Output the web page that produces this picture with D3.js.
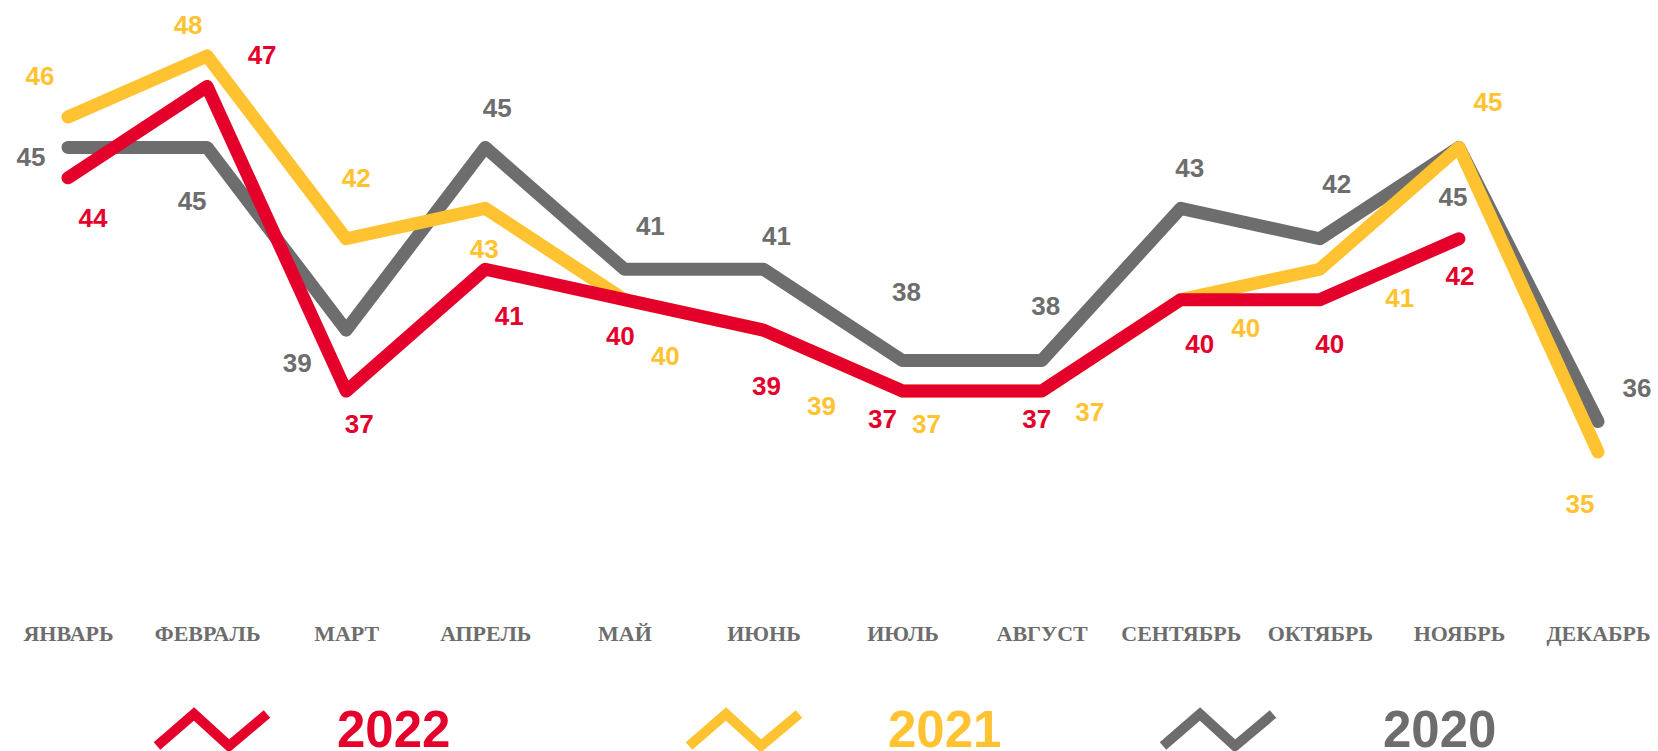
<!DOCTYPE html>
<html>
<head>
<meta charset="utf-8">
<script src="https://cdn.jsdelivr.net/npm/d3@7"></script>
<style>
  html, body { margin: 0; padding: 0; background: #fff; overflow: hidden; }
  .month { font-family: "Liberation Serif", "DejaVu Serif", serif; font-weight: bold; font-size: 22px; fill: #6d6d6d; }
  .val { font-family: "Liberation Sans", Arial, sans-serif; font-weight: bold; font-size: 26px; }
  .legend__text { font-family: "Liberation Sans", Arial, sans-serif; font-weight: bold; font-size: 51px; }
</style>
</head>
<body>
<div class="chart"></div>
<script>
var months = ["ЯНВАРЬ", "ФЕВРАЛЬ", "МАРТ", "АПРЕЛЬ", "МАЙ", "ИЮНЬ", "ИЮЛЬ", "АВГУСТ", "СЕНТЯБРЬ", "ОКТЯБРЬ", "НОЯБРЬ", "ДЕКАБРЬ"];

var values2022 = [44, 47, 37, 41, 40, 39, 37, 37, 40, 40, 42];
var values2021 = [46, 48, 42, 43, 40, 39, 37, 37, 40, 41, 45, 35];
var values2020 = [45, 45, 39, 45, 41, 41, 38, 38, 43, 42, 45, 36];

// where each value label sits relative to its point [dx, dy]
var offsets2022 = [[25, 49], [55, -22], [13, 42], [24, 56], [-4, 45], [3, 65], [-20, 37], [-5, 37], [19, 53], [10, 53], [1, 46]];
var offsets2021 = [[-28, -32], [-19, -22], [10, -52], [-1, 50], [41, 65], [58, 85], [24, 42], [48, 30], [65, 37], [80, 38], [29, -36], [-18, 61]];
var offsets2020 = [[-37, 19], [-15, 63], [-49, 42], [12, -30], [26, -34], [13, -24], [4, -60], [4, -46], [9, -31], [17, -46], [-6, 59], [39, -25]];

var width = 1658,
    height = 751;

var svg = d3.select(".chart")
    .append("svg")
    .attr("width", width)
    .attr("height", height);

var x = d3.scalePoint().domain(months).range([68, 1598]);
var y = d3.scaleLinear().domain([35, 48]).range([452, 56]);

var line = d3.line()
    .x(function(d, i){ return x(months[i]); })
    .y(function(d){ return y(d); });

// bottom to top: 2020, 2021, 2022
var series = [
  {name: "2020", color: "#6d6d6d", values: values2020, offsets: offsets2020, legendX: 1163},
  {name: "2021", color: "#ffc331", values: values2021, offsets: offsets2021, legendX: 689},
  {name: "2022", color: "#e4002b", values: values2022, offsets: offsets2022, legendX: 157}
];

series.forEach(function(s){
  svg.append("path")
    .datum(s.values)
    .attr("fill", "none")
    .attr("stroke", s.color)
    .attr("stroke-width", 13)
    .attr("stroke-linecap", "round")
    .attr("stroke-linejoin", "round")
    .attr("d", line);
});

series.forEach(function(s){
  svg.append("g")
    .selectAll("text")
    .data(s.values)
    .enter()
    .append("text")
    .attr("class", "val")
    .attr("fill", s.color)
    .attr("text-anchor", "middle")
    .attr("x", function(d, i){ return x(months[i]) + s.offsets[i][0]; })
    .attr("y", function(d, i){ return y(d) + s.offsets[i][1]; })
    .text(function(d){ return d; });
});

// month labels
var xAxis = svg.append("g")
  .attr("transform", "translate(0,641)")
  .call(d3.axisBottom(x).tickSize(0).tickPadding(0));
xAxis.select(".domain").remove();
xAxis.selectAll("text")
  .attr("class", "month")
  .attr("dy", 0)
  .attr("y", 0)
  .attr("fill", null);

// legend
var icon = d3.line()([[0, 32], [37, 0], [72, 32], [110, 0]]);

var legendText = {"2022": 337, "2021": 888, "2020": 1383};

series.forEach(function(s){
  svg.append("path")
    .attr("d", icon)
    .attr("transform", "translate(" + s.legendX + ",714)")
    .attr("fill", "none")
    .attr("stroke", s.color)
    .attr("stroke-width", 10);

  svg.append("text")
    .attr("class", "legend__text")
    .attr("fill", s.color)
    .attr("x", legendText[s.name])
    .attr("y", 747)
    .text(s.name);
});
</script>
</body>
</html>
